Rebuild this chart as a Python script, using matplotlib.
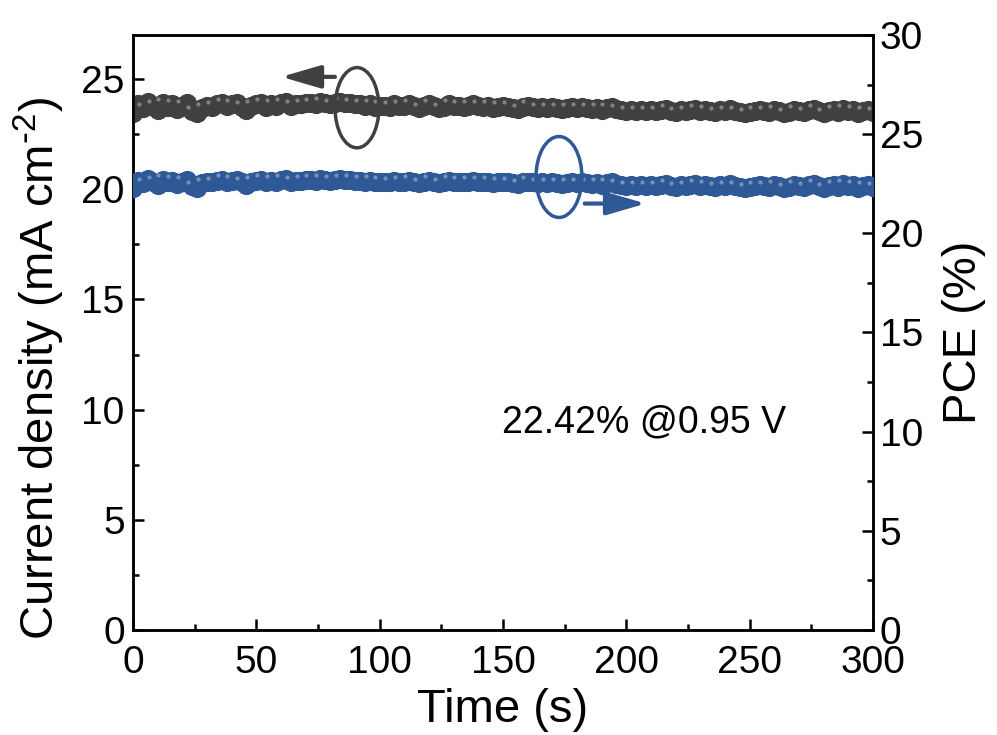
import numpy as np
import matplotlib
matplotlib.use("Agg")
import matplotlib.pyplot as plt
from matplotlib.patches import Ellipse
from matplotlib.transforms import ScaledTranslation
from matplotlib.ticker import MultipleLocator

plt.rcParams["font.family"] = ["Liberation Sans", "DejaVu Sans"]
plt.rcParams["mathtext.default"] = "regular"

# data: one point every 2 s
time_s = np.arange(0, 301, 2)
current_density = np.array([
    23.45, 23.85, 23.70, 23.95, 23.80, 23.60, 23.90, 23.75, 23.85, 23.65,
    23.80, 23.90, 23.55, 23.45, 23.70, 23.80, 23.75, 23.85, 23.90, 23.80,
    23.85, 23.90, 23.75, 23.60, 23.80, 23.85, 23.90, 23.75, 23.85, 23.80,
    23.90, 23.95, 23.80, 23.85, 23.85, 23.90, 23.90, 23.85, 23.95, 23.90,
    23.85, 23.90, 23.95, 23.90, 23.90, 23.85, 23.85, 23.80, 23.85, 23.75,
    23.80, 23.80, 23.75, 23.85, 23.80, 23.80, 23.85, 23.80, 23.70, 23.80,
    23.85, 23.80, 23.70, 23.75, 23.85, 23.80, 23.80, 23.75, 23.80, 23.85,
    23.80, 23.75, 23.80, 23.70, 23.75, 23.80, 23.75, 23.70, 23.65, 23.75,
    23.80, 23.75, 23.70, 23.75, 23.70, 23.75, 23.70, 23.65, 23.70, 23.75,
    23.70, 23.75, 23.70, 23.65, 23.70, 23.60, 23.70, 23.75, 23.65, 23.60,
    23.55, 23.60, 23.55, 23.60, 23.55, 23.60, 23.55, 23.60, 23.65, 23.55,
    23.50, 23.60, 23.55, 23.60, 23.65, 23.55, 23.60, 23.55, 23.50, 23.60,
    23.55, 23.65, 23.55, 23.50, 23.45, 23.50, 23.55, 23.60, 23.55, 23.50,
    23.60, 23.55, 23.45, 23.50, 23.60, 23.55, 23.50, 23.60, 23.65, 23.55,
    23.45, 23.55, 23.60, 23.50, 23.65, 23.55, 23.60, 23.45, 23.55, 23.60,
    23.50,
])
bias_v = 0.95
pce = current_density * bias_v  # PCE = J x V under 100 mW cm-2

black = "#404040"
blue = "#2f5996"

fig = plt.figure(figsize=(9.97, 7.35), dpi=100)
ax = fig.add_axes([0.1334, 0.1429, 0.7422, 0.8095])
ax2 = ax.twinx()


def balls(a, x, y, color):
    a.plot(x, y, "o", ms=13, color=color, mec=color, mew=0.8, zorder=3)
    shift = ScaledTranslation(-3 / 72, 3 / 72, fig.dpi_scale_trans)
    a.plot(x[::2], y[::2], "o", ms=3.0, color="white", mew=0, alpha=0.35,
           transform=a.transData + shift, zorder=4)


balls(ax, time_s, current_density, black)
balls(ax2, time_s, pce, blue)

ax.set_xlim(0, 300)
ax.set_ylim(0, 27)
ax2.set_ylim(0, 30)

ax.xaxis.set_major_locator(MultipleLocator(50))
ax.xaxis.set_minor_locator(MultipleLocator(25))
ax.yaxis.set_major_locator(MultipleLocator(5))
ax.yaxis.set_minor_locator(MultipleLocator(2.5))
ax2.yaxis.set_major_locator(MultipleLocator(5))
ax2.yaxis.set_minor_locator(MultipleLocator(2.5))

for a in (ax, ax2):
    for s in a.spines.values():
        s.set_linewidth(1.8)
    a.tick_params(which="major", direction="in", length=8, width=1.8,
                  labelsize=28, pad=6)
    a.tick_params(which="minor", direction="in", length=4.5, width=1.8)
ax.tick_params(axis="y", which="both", right=False)
ax.tick_params(axis="x", which="both", top=False, pad=11)
ax2.tick_params(axis="y", pad=5)

ax.set_xlabel("Time (s)", fontsize=34)
ax.xaxis.set_label_coords(0.5, -0.097)
ax.set_ylabel(r"Current density (mA cm$^{\text{-}2}$)", fontsize=34)
ax.yaxis.set_label_coords(-0.089, 0.44)
ax2.set_ylabel("PCE (%)", fontsize=34)
ax2.yaxis.set_label_coords(1.093, 0.50)

# guide marks for the two axes
ax.add_patch(Ellipse((90.8, 23.7), 17.8, 3.64, fill=False, ec=black,
                     lw=2.5, zorder=5))
ax.annotate("", xy=(59, 25.1), xytext=(83, 25.1),
            arrowprops=dict(arrowstyle="-|>,head_length=1.2,head_width=0.35",
                            color=black, lw=3, mutation_scale=20))
ax2.add_patch(Ellipse((172.7, 22.84), 18.6, 4.08, fill=False, ec=blue,
                      lw=2.5, zorder=5))
ax2.annotate("", xy=(209, 21.5), xytext=(182, 21.5),
             arrowprops=dict(arrowstyle="-|>,head_length=1.2,head_width=0.35",
                             color=blue, lw=3, mutation_scale=20))

ax.text(207, 9.4, "22.42% @0.95 V", fontsize=27, ha="center", va="center")

fig.savefig("out.png", dpi=100)
